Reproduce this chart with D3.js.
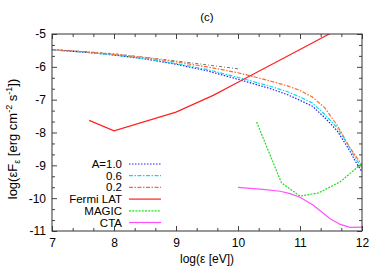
<!DOCTYPE html>
<html>
<head>
<meta charset="utf-8">
<script src="https://cdn.jsdelivr.net/npm/d3@7"></script>
<style>
  body { margin: 0; background: #fff; }
  svg { font-family: "Liberation Sans", Arial, sans-serif; }
</style>
</head>
<body>
<svg id="svg1" width="382" height="267"></svg>
<script>
// x = log(eps [eV]), y = log(eps F_eps)
var xTicks = [7, 8, 9, 10, 11, 12];
var yTicks = [-5, -6, -7, -8, -9, -10, -11];

var blueA10 = [[7,-5.48],[7.5,-5.55],[8,-5.64],[8.5,-5.76],[9,-5.92],[9.5,-6.12],[10,-6.38],[10.5,-6.65],[10.8,-6.85],[11,-7.02],[11.2,-7.2],[11.4,-7.55],[11.6,-7.95],[11.8,-8.55],[11.9,-8.9],[12,-9.2]];
var cyanA06 = [[7,-5.48],[7.5,-5.55],[8,-5.64],[8.5,-5.75],[9,-5.9],[9.5,-6.08],[10,-6.32],[10.5,-6.58],[10.8,-6.76],[11,-6.92],[11.2,-7.1],[11.4,-7.45],[11.6,-7.86],[11.8,-8.45],[11.9,-8.8],[12,-9.1]];
var orangeA02 = [[7,-5.48],[7.5,-5.54],[8,-5.62],[8.5,-5.72],[9,-5.85],[9.5,-6.0],[10,-6.18],[10.5,-6.42],[10.8,-6.58],[11,-6.72],[11.2,-6.92],[11.4,-7.25],[11.6,-7.78],[11.8,-8.45],[11.9,-8.72],[12,-9.0]];
var grayLine = [[7,-5.47],[8,-5.6],[9,-5.82],[10,-6.06]];
var fermiLAT = [[7.6,-7.63],[8,-7.95],[9,-7.38],[9.6,-6.87],[10,-6.47],[11,-5.47],[11.5,-4.97]];
var magic = [[10.3,-7.68],[10.7,-9.53],[11,-9.94],[11.3,-9.84],[11.65,-9.5],[12,-8.94]];
var cta = [[10,-9.67],[10.4,-9.73],[10.68,-9.79],[10.84,-9.86],[11,-9.97],[11.21,-10.21],[11.48,-10.62],[11.65,-10.8],[11.81,-10.89],[12,-10.88]];

var series = [
    {label: "A=1.0", data: blueA10, color: "#2020ff", dash: "1.5,1.5"},
    {label: "0.6", data: cyanA06, color: "#10d8e8", dash: "4,1.5,1.5,1.5"},
    {label: "0.2", data: orangeA02, color: "#ff6a30", dash: "4,1.5,1.5,1.5"},
    {label: "Fermi LAT", data: fermiLAT, color: "#ff2020", dash: null},
    {label: "MAGIC", data: magic, color: "#20dd20", dash: "2,1.2"},
    {label: "CTA", data: cta, color: "#ff50ff", dash: null}
];

var svg = d3.select("#svg1");
var margin = {top: 34, right: 20, bottom: 36, left: 52};
var width = 382 - margin.left - margin.right,
    height = 267 - margin.top - margin.bottom;

var xScale = d3.scaleLinear().domain([7, 12]).range([margin.left, margin.left + width]);
var yScale = d3.scaleLinear().domain([-11, -5]).range([margin.top + height, margin.top]);

var xMinor = d3.range(7, 12.001, 1/3).filter(v => Math.abs(v - Math.round(v)) > 0.01);
var yMinor = d3.range(-11, -4.999, 1/3).filter(v => Math.abs(v - Math.round(v)) > 0.01);

// axes : majeurs + mineurs sur les 4 côtés, ticks vers l'intérieur
function drawAxis(axisFn, scale, ticks, size, translate, fmt, pad) {
    var ax = axisFn(scale).tickValues(ticks).tickSize(-size).tickPadding(pad || 3);
    ax.tickFormat(fmt ? (d => String(d)) : "");
    var g = svg.append("g").attr("transform", translate).call(ax);
    g.select(".domain").remove();
    g.selectAll(".tick line").attr("stroke", "#444");
    g.selectAll(".tick text").attr("fill", "#000").style("font-size", "12px");
    return g;
}
var bottomT = `translate(0,${margin.top + height})`,
    topT = `translate(0,${margin.top})`,
    leftT = `translate(${margin.left},0)`,
    rightT = `translate(${margin.left + width},0)`;

drawAxis(d3.axisBottom, xScale, xTicks, 5, bottomT, true, 7);
drawAxis(d3.axisBottom, xScale, xMinor, 3, bottomT, false);
drawAxis(d3.axisTop, xScale, xTicks, 5, topT, false);
drawAxis(d3.axisTop, xScale, xMinor, 3, topT, false);
drawAxis(d3.axisLeft, yScale, yTicks, 5, leftT, true, 6);
drawAxis(d3.axisLeft, yScale, yMinor, 3, leftT, false);
drawAxis(d3.axisRight, yScale, yTicks, 5, rightT, false);
drawAxis(d3.axisRight, yScale, yMinor, 3, rightT, false);

svg.append("clipPath").attr("id", "clip")
    .append("rect")
    .attr("x", margin.left).attr("y", margin.top)
    .attr("width", width).attr("height", height);

var line = d3.line().x(d => xScale(d[0])).y(d => yScale(d[1]));
var plot = svg.append("g").attr("clip-path", "url(#clip)");

plot.append("path")
    .attr("d", line(grayLine))
    .attr("fill", "none")
    .attr("stroke", "#777")
    .attr("stroke-width", 1)
    .attr("stroke-dasharray", "3,2,1,2");

series.forEach(function(s) {
    plot.append("path")
        .attr("d", line(s.data))
        .attr("fill", "none")
        .attr("stroke", s.color)
        .attr("stroke-width", 1.2)
        .attr("stroke-dasharray", s.dash);
});

// cadre
svg.append("rect")
    .attr("x", margin.left).attr("y", margin.top)
    .attr("width", width).attr("height", height)
    .attr("fill", "none").attr("stroke", "#333").attr("stroke-width", 1);

// légende
var legend = svg.append("g");
series.forEach(function(s, i) {
    var ly = 164 + i * 11.7;
    legend.append("text")
        .attr("x", 122).attr("y", ly + 4)
        .attr("text-anchor", "end")
        .style("font-size", "11.5px")
        .text(s.label);
    legend.append("line")
        .attr("x1", 129).attr("x2", 161)
        .attr("y1", ly).attr("y2", ly)
        .attr("stroke", s.color)
        .attr("stroke-width", 1.2)
        .attr("stroke-dasharray", s.dash);
});

// titre
svg.append("text")
    .attr("x", 207).attr("y", 21)
    .attr("text-anchor", "middle")
    .style("font-size", "11.5px")
    .text("(c)");

// label abscisse
svg.append("text")
    .attr("x", 207).attr("y", 263)
    .attr("text-anchor", "middle")
    .style("font-size", "12px")
    .text("log(ε [eV])");

// label ordonnée
var yl = svg.append("text")
    .attr("transform", "translate(17,139) rotate(-90)")
    .attr("text-anchor", "middle")
    .style("font-size", "13px");
yl.append("tspan").text("log(εF");
yl.append("tspan").attr("dy", 3).style("font-size", "9px").text("ε");
yl.append("tspan").attr("dy", -3).text(" [erg cm");
yl.append("tspan").attr("dy", -5).style("font-size", "9px").text("-2");
yl.append("tspan").attr("dy", 5).text(" s");
yl.append("tspan").attr("dy", -5).style("font-size", "9px").text("-1");
yl.append("tspan").attr("dy", 5).text("])");
</script>
</body>
</html>
